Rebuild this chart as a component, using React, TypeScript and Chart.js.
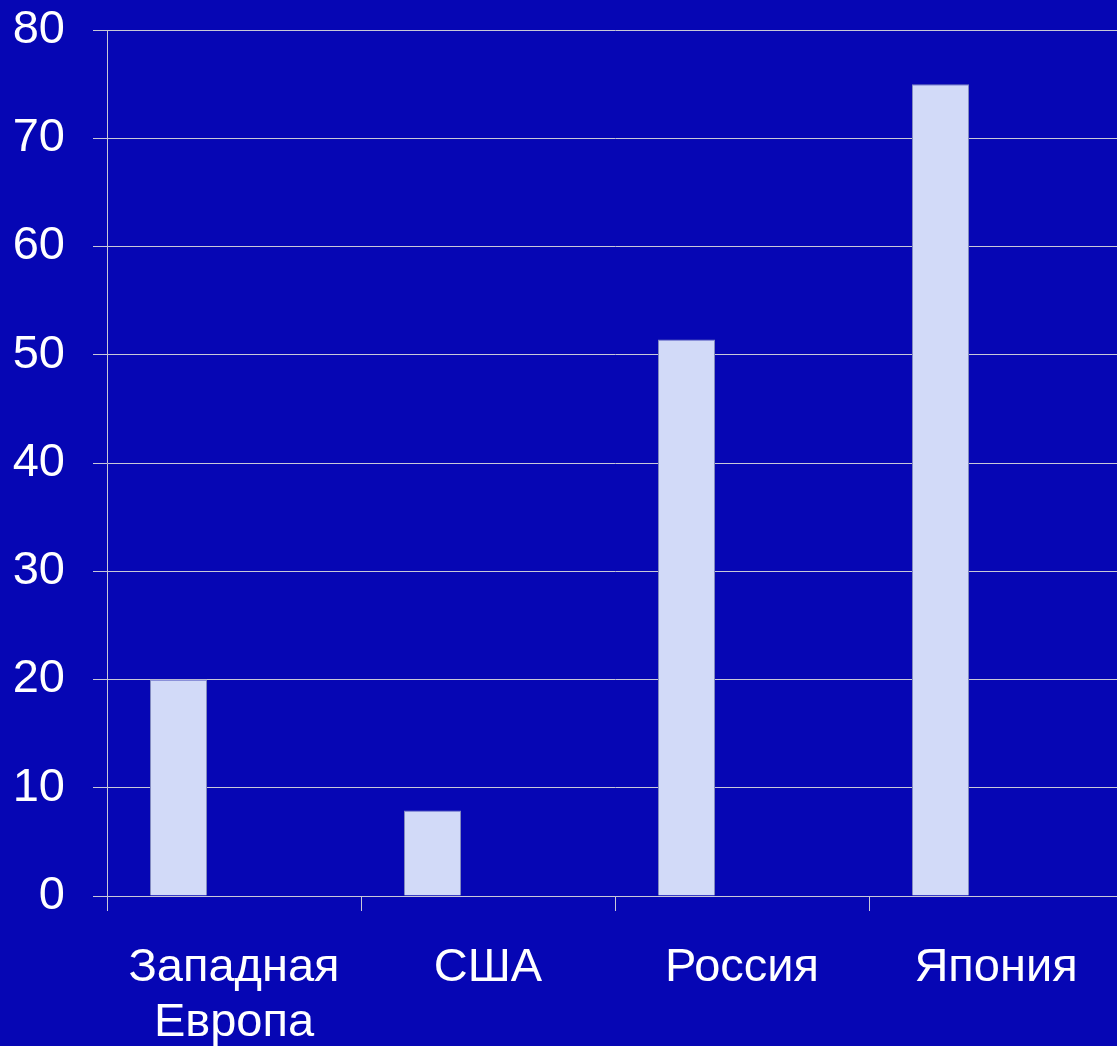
import React, { useEffect, useRef } from "react";
import { Chart, registerables } from "chart.js";

Chart.register(...registerables);

const categories: (string | string[])[] = [["Западная", "Европа"], "США", "Россия", "Япония"];
const seriesValues: number[] = [20, 7.9, 51.4, 75];
const emptySeries: (number | null)[] = [null, null, null, null];
const yTicks: number[] = [0, 10, 20, 30, 40, 50, 60, 70, 80];

const BG = "#0606B4";
const GRID = "#C8C8D8";
const FONT = "'Liberation Sans', Arial, sans-serif";

export default function App() {
  const ref = useRef<HTMLCanvasElement | null>(null);

  useEffect(() => {
    const canvas = ref.current;
    if (!canvas) return;
    const chart = new Chart(canvas, {
      type: "bar",
      data: {
        labels: categories,
        datasets: [
          {
            data: seriesValues,
            backgroundColor: "#D2DAF8",
            borderColor: "#8088C0",
            borderWidth: 1,
            categoryPercentage: 0.874,
            barPercentage: 0.514,
          },
          {
            data: emptySeries,
            backgroundColor: "#D2DAF8",
            categoryPercentage: 0.874,
            barPercentage: 0.514,
          },
        ],
      },
      options: {
        responsive: false,
        animation: false,
        layout: { padding: { top: 30, right: 0, bottom: 0, left: 0 } },
        plugins: {
          legend: { display: false },
          tooltip: { enabled: false },
        },
        scales: {
          x: {
            offset: true,
            grid: {
              offset: true,
              display: true,
              drawOnChartArea: false,
              drawTicks: true,
              tickLength: 15,
              color: GRID,
            },
            border: { display: true, color: GRID, width: 1 },
            ticks: {
              color: "#FFFFFF",
              font: { family: FONT, size: 47, lineHeight: 1.17 },
              padding: 30,
              maxRotation: 0,
              autoSkip: false,
            },
            afterFit: (scale: any) => {
              scale.height = 150;
              scale.paddingLeft = 0;
              scale.paddingRight = 0;
            },
          },
          y: {
            min: 0,
            max: 80,
            afterBuildTicks: (scale: any) => {
              scale.ticks = yTicks.map((v) => ({ value: v }));
            },
            grid: {
              color: GRID,
              lineWidth: 1,
              tickLength: 14,
              drawTicks: true,
            },
            border: { display: true, color: GRID, width: 1 },
            ticks: {
              color: "#FFFFFF",
              font: { family: FONT, size: 47 },
              padding: 28,
            },
            afterFit: (scale: any) => {
              scale.width = 107;
              scale.paddingTop = 0;
              scale.paddingBottom = 0;
            },
          },
        },
      },
      plugins: [
        {
          id: "bg",
          beforeDraw: (c: any) => {
            const ctx = c.ctx;
            ctx.save();
            ctx.fillStyle = BG;
            ctx.fillRect(0, 0, c.width, c.height);
            ctx.restore();
          },
        },
      ],
    } as any);
    return () => chart.destroy();
  }, []);

  return (
    <div style={{ position: "fixed", left: 0, top: 0, width: 1117, height: 1046, overflow: "hidden", background: BG }}>
      <canvas ref={ref} width={1123} height={1046} style={{ display: "block", width: 1123, height: 1046 }} />
    </div>
  );
}
